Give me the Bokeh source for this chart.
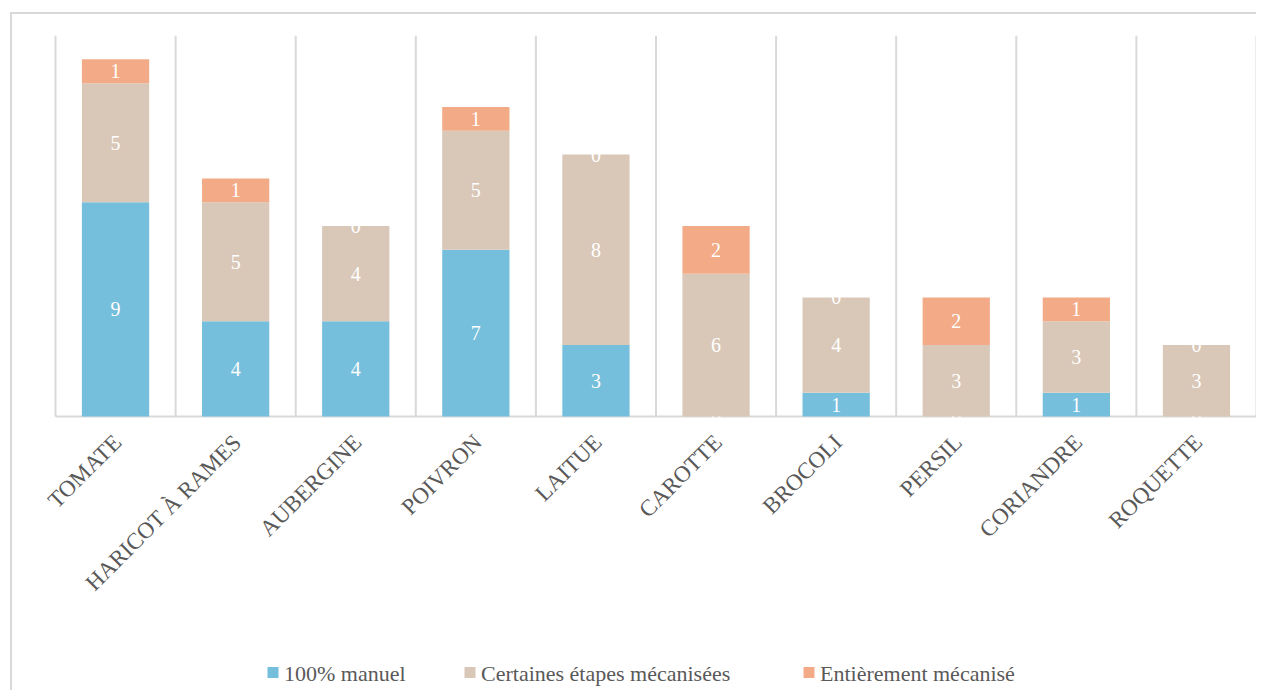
import numpy as np
from bokeh.plotting import figure
from bokeh.models import ColumnDataSource
from bokeh.embed import file_html
from bokeh.resources import INLINE

categories = ["TOMATE", "HARICOT À RAMES", "AUBERGINE", "POIVRON", "LAITUE",
              "CAROTTE", "BROCOLI", "PERSIL", "CORIANDRE", "ROQUETTE"]
manuel = [9, 4, 4, 7, 3, 0, 1, 0, 1, 0]
certaines = [5, 5, 4, 5, 8, 6, 4, 3, 3, 3]
entierement = [1, 1, 0, 1, 0, 2, 0, 2, 1, 0]
series_names = ["100% manuel", "Certaines étapes mécanisées", "Entièrement mécanisé"]
colors = ["#75BEDC", "#D9C8B8", "#F2AB86"]

FONT = "Liberation Serif"
GREY = "#595959"
YMAX = 16
FRAME_H = 655
PX_PER_UNIT = 381 / YMAX
YMIN = -(FRAME_H - 381) / PX_PER_UNIT

n = len(categories)
xs = np.arange(n) + 0.5
PX_PER_CAT = 1201 / n
FRAME_W = 1242
XMIN = -(FRAME_W - 1201) / PX_PER_CAT

p = figure(frame_width=FRAME_W, frame_height=FRAME_H, output_backend="svg", toolbar_location=None,
           x_range=(XMIN, n), y_range=(YMIN, YMAX),
           x_axis_location=None, y_axis_location=None,
           min_border_left=2, min_border_top=21, min_border_right=0, min_border_bottom=0)
p.styles = {"border-left": "2px solid #d9d9d9", "border-top": "2px solid #d9d9d9",
            "margin-left": "10px", "margin-top": "12px"}
p.outline_line_color = None
p.grid.visible = False

# category separators and baseline
bounds = np.arange(n + 1)
p.segment(x0=bounds, y0=np.zeros(n + 1), x1=bounds, y1=np.full(n + 1, YMAX),
          line_color="#d9d9d9", line_width=2)
p.segment(x0=[0], y0=[0], x1=[n], y1=[0], line_color="#d9d9d9", line_width=2)

data = [manuel, certaines, entierement]
bottom = np.zeros(n)
for name, vals, col in zip(series_names, data, colors):
    vals = np.array(vals, dtype=float)
    top = bottom + vals
    src = ColumnDataSource(dict(x=xs, bottom=bottom.copy(), top=top, mid=(bottom + top) / 2,
                                lbl=[str(int(v)) for v in vals]))
    p.vbar(x="x", bottom="bottom", top="top", width=0.56, source=src,
           fill_color=col, line_color=None)
    p.text(x="x", y="mid", text="lbl", source=src, text_color="white",
           text_font={"value": FONT}, text_font_size="20px",
           text_align="center", text_baseline="middle")
    bottom = top

# category labels (rotated 45°)
lab_src = ColumnDataSource(dict(x=xs, y=np.zeros(n), t=categories))
p.text(x="x", y="y", text="t", source=lab_src, angle=np.pi / 4,
       text_align="right", text_baseline="middle", x_offset=2, y_offset=22,
       text_font={"value": FONT}, text_font_size="23px", text_color=GREY)

# legend (drawn as glyphs so that it keeps the serif font); layout in frame pixels
legend_glyph_px = [272.5, 469.5, 808.5]
legend_y_px = 672
leg_x = [(sx - 55) / PX_PER_CAT for sx in legend_glyph_px]
leg_y = -(legend_y_px - 416) / PX_PER_UNIT
leg_src = ColumnDataSource(dict(x=leg_x, y=[leg_y] * 3, c=colors, t=series_names))
p.scatter(x="x", y="y", source=leg_src, marker="square", size=11,
          fill_color="c", line_color=None)
p.text(x="x", y="y", text="t", source=leg_src, x_offset=11, y_offset=1,
       text_align="left", text_baseline="middle", text_color=GREY,
       text_font={"value": FONT}, text_font_size="22px")

open("out.html", "w").write(file_html(p, INLINE))
